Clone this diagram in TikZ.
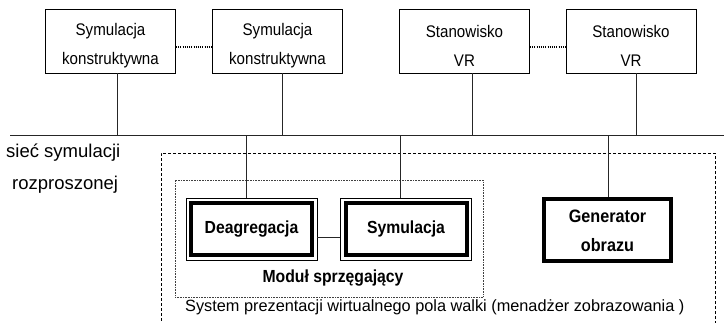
\documentclass[tikz,border=0pt]{standalone}
\usepackage{fontspec}
\setmainfont{Liberation Sans}
\newfontfamily\condfont{Liberation Sans}[FakeStretch=0.9]
\begin{document}
\begin{tikzpicture}[x=1pt,y=-1pt,
  every node/.style={inner sep=0pt, text=black},
  link/.style={line width=0.8pt, draw=black!85},
  dotlink/.style={line width=1.6pt, dash pattern=on 1.1pt off 1.1pt},
  topbox/.style={draw, line width=0.8pt, minimum width=130pt, minimum height=64pt,
    align=center, font=\fontsize{16.8}{29}\condfont},
  dblbox/.style={draw, line width=0.8pt, minimum width=131pt, minimum height=62pt,
    font=\fontsize{17.5}{20}\condfont\bfseries,
    path picture={\draw[line width=4pt]
      ([shift={(5pt,-5pt)}]path picture bounding box.north west) rectangle
      ([shift={(-5pt,5pt)}]path picture bounding box.south east);}},
  thickbox/.style={draw, line width=4pt, minimum width=127pt, minimum height=62pt,
    align=center, font=\fontsize{18}{29}\condfont\bfseries},
  label/.style={font=\fontsize{18.5}{20}\selectfont, anchor=base west},
  note/.style={font=\fontsize{16.3}{20}\selectfont, anchor=base west},
]
\useasboundingbox (0,0) rectangle (724,322);

% outer system frame and the coupling module frame
\node[draw, line width=0.8pt, dash pattern=on 3pt off 2pt,
      minimum width=554pt, minimum height=172pt] (system) at (438,239) {};
\node[draw, line width=0.7pt, draw=black!75, dash pattern=on 0.7pt off 0.9pt,
      minimum width=308pt, minimum height=117pt] (modul) at (329,238.5) {};

% stations on the network (the strut lowers the two lines inside the frame)
\node[topbox] (sc1) at (110.5,41) {\rule{0pt}{22pt}Symulacja\\konstruktywna};
\node[topbox] (sc2) at (277.5,41) {\rule{0pt}{22pt}Symulacja\\konstruktywna};
\node[topbox] (vr1) at (464.5,41) {\rule{0pt}{22pt}Stanowisko\\VR};
\node[topbox] (vr2) at (631,41) {\rule{0pt}{22pt}Stanowisko\\VR};

\draw[dotlink] ([yshift=-6pt]sc1.east) -- ([yshift=-6pt]sc2.west);
\draw[dotlink] ([yshift=-6pt]vr1.east) -- ([yshift=-6pt]vr2.west);

% network bus
\coordinate (busL) at (10,135.5);
\coordinate (busR) at (724,135.5);
\draw[link] (busL) -- (busR);

\coordinate (t1) at (117,135.5);
\coordinate (t2) at (282,135.5);
\coordinate (t3) at (472,135.5);
\coordinate (t4) at (636,135.5);
\draw[link] (sc1.south -| t1) -- (t1);
\draw[link] (sc2.south -| t2) -- (t2);
\draw[link] (vr1.south -| t3) -- (t3);
\draw[link] (vr2.south -| t4) -- (t4);

\node[label] (net1) at (6,157) {sieć symulacji};
\node[label] (net2) at (12,189) {rozproszonej};

% presentation system components
\node[dblbox] (deag) at (251.5,229) {Deagregacja};
\node[dblbox] (sym) at (406,229) {Symulacja};
\node[thickbox] (gen) at (607.5,230) {\rule{0pt}{15pt}Generator\\obrazu};

\coordinate (b1) at (246,135.5);
\coordinate (b2) at (400,135.5);
\coordinate (b3) at (608,135.5);
\draw[link] (b1) -- (b1 |- deag.north);
\draw[link] (b2) -- (b2 |- sym.north);
\draw[link] (b3) -- (b3 |- gen.north);

\draw[link] ([yshift=-8pt]deag.east) -- ([yshift=-8pt]sym.west);

\node[font=\fontsize{17.5}{20}\condfont\bfseries, anchor=base] (modlbl) at (333,282) {Moduł sprzęgający};
\node[note] (syslbl) at (185,311) {System prezentacji wirtualnego pola walki (menadżer zobrazowania )};
\end{tikzpicture}
\end{document}
